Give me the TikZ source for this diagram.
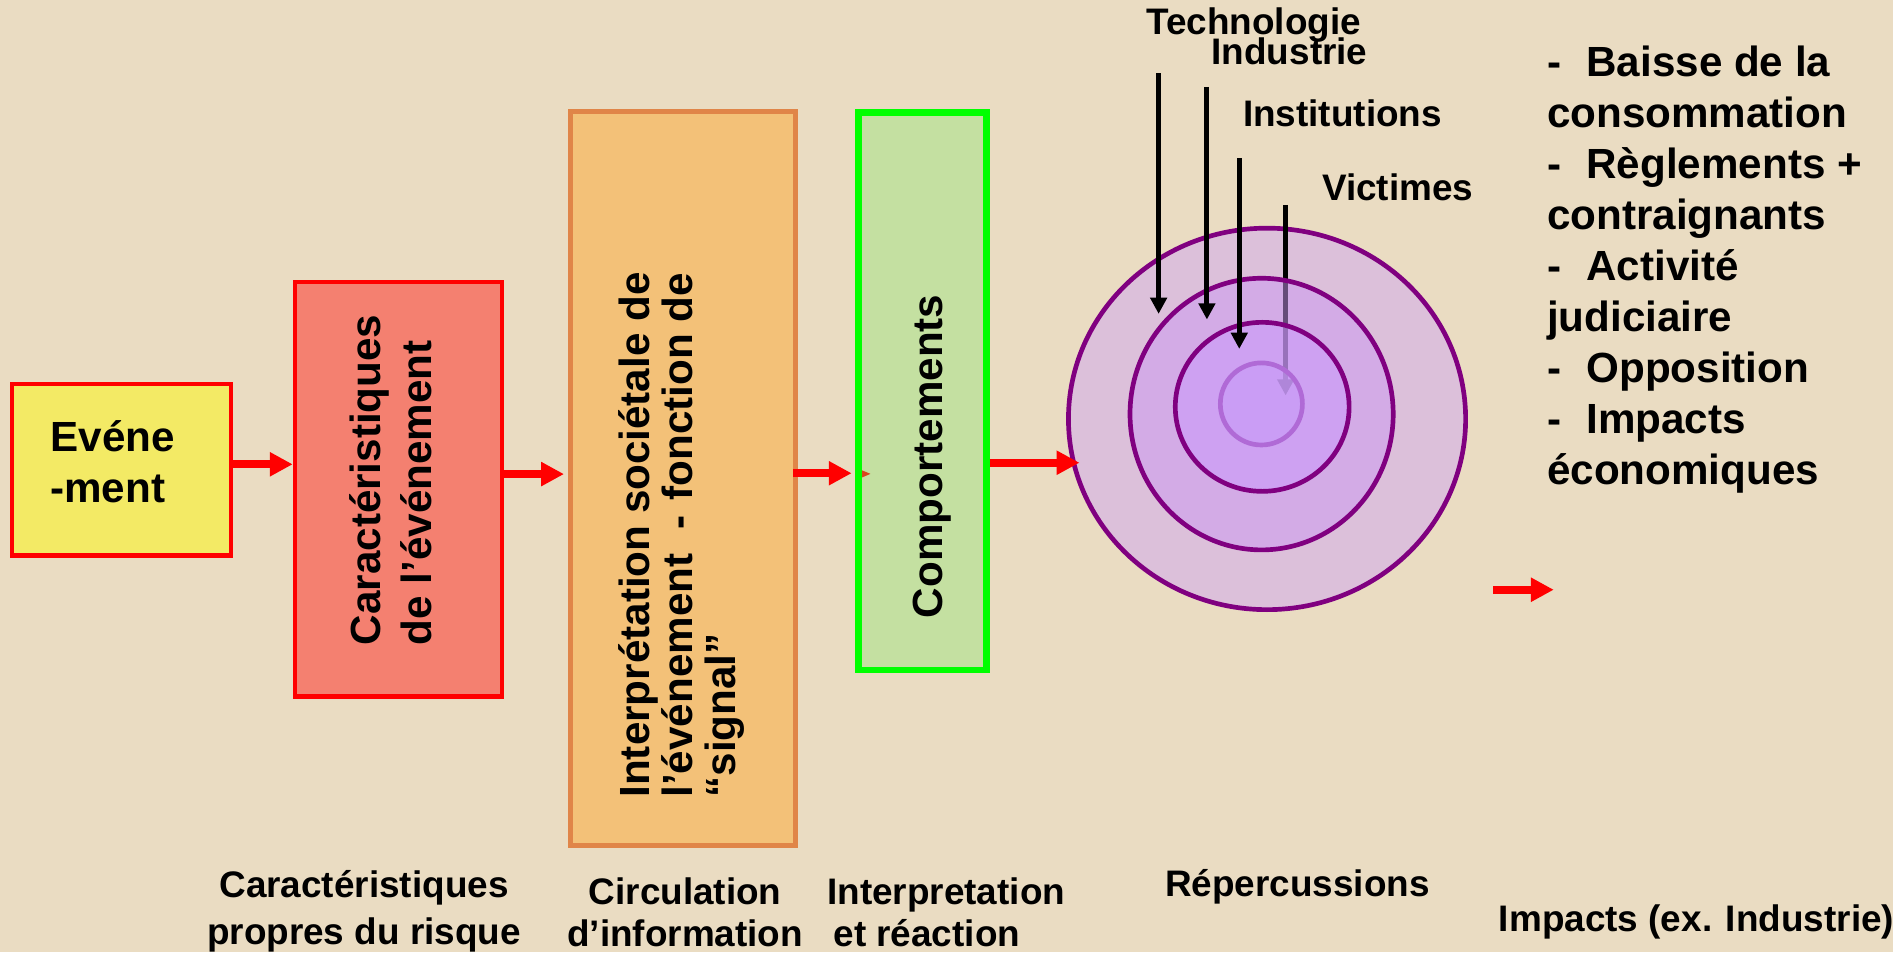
\documentclass[tikz,border=0pt]{standalone}
\usepackage{fontspec}
\setmainfont{Liberation Sans}
\usetikzlibrary{arrows.meta,fit,shapes.geometric}
\definecolor{bgc}{HTML}{EADCC2}
\definecolor{yellowbox}{HTML}{F3EA65}
\definecolor{salmonbox}{HTML}{F48070}
\definecolor{orangebox}{HTML}{F3C178}
\definecolor{orangeline}{HTML}{E08548}
\definecolor{greenbox}{HTML}{C4E0A1}
\definecolor{greenline}{HTML}{00FF00}
\definecolor{ringpurple}{HTML}{800080}
\definecolor{ringlight}{HTML}{B06AD6}
\definecolor{fillA}{HTML}{DCC0DA}
\definecolor{fillB}{HTML}{CC98F2}
\definecolor{fillC}{HTML}{CA98FE}
\definecolor{fillD}{HTML}{C79AF8}
\definecolor{tinytri}{HTML}{D9461E}
\newcommand\vu{0.012073cm}
\tikzset{
  redarrow/.style={draw=red, line width=2.2pt, -{Triangle[length=6.5pt,width=6.5pt]}},
  blackarrow/.style={draw=black, line width=1.4pt, -{Triangle[length=4.6pt,width=4.6pt]}},
  boxnode/.style={inner sep=0pt, line width=1.2pt},
  bigtext/.style={font=\fontsize{12}{14.4}\selectfont\bfseries, inner sep=0pt},
  smalltext/.style={font=\fontsize{10.5}{13}\selectfont\bfseries, inner sep=0pt},
  ring/.style={ellipse, draw=ringpurple, line width=1.33pt, inner sep=0pt},
}
\begin{document}
\begin{tikzpicture}[x=\vu, y=-\vu]
\fill[bgc] (0,0) rectangle (1568,788.6);
\useasboundingbox (0,0) rectangle (1568,788.6);

% boxes
\node[boxnode, draw=red, fill=yellowbox, fit={(10.1,317.9) (191.6,460.2)}] (b1) {};
\node[boxnode, draw=red, fill=salmonbox, fit={(244.2,233.9) (415.5,577)}] (b2) {};
\node[boxnode, draw=orangeline, fill=orangebox, line width=1.4pt, fit={(472.7,92.5) (658.7,700.3)}] (b3) {};
\node[boxnode, draw=greenline, fill=greenbox, line width=1.9pt, fit={(711.1,93.2) (816.9,555)}] (b4) {};

% box texts (base anchor = baseline of the last line)
\node[bigtext, anchor=base west, align=left] (t1) at (41.2,416.2) {Evéne\\-ment};
\node[bigtext, rotate=90, anchor=base west, align=left] (t2) at (357,535) {Caractéristiques\\de l’événement};
\node[bigtext, font=\fontsize{12}{12.3}\selectfont\bfseries, rotate=90, anchor=base west, align=left] (t3) at (609.6,661.2)
  {Interprétation sociétale de\\l’événement\hspace{7pt}-\hspace{4.2pt}fonction de\\“signal”};
\node[bigtext, rotate=90, anchor=base west] (t4) at (781,512.6) {Comportements};

% red connectors
\draw[redarrow] (b1.east |- 0,384.6) -- (b2.west |- 0,384.6);
\draw[redarrow] (b2.east |- 0,392.7) -- ([xshift=-1.2pt]b3.west |- 0,392.7);
\draw[redarrow] ([xshift=-1.3pt]b3.east |- 0,392) -- ([xshift=-1pt]b4.west |- 0,392);
\fill[tinytri] (714,389.6) -- (721,392.5) -- (714,395.5) -- cycle;

% concentric rings
\node[ring, fill=fillA, minimum width={329*\vu}, minimum height={316*\vu}] (e1) at (1049.5,347) {};
\coordinate (vtop) at (1064.9,169.7);
\coordinate (vtip) at (1064.9,327.6);
\draw[blackarrow] (vtop) -- (vtip);
\node[ring, fill=fillB, fill opacity=0.5, minimum width={218*\vu}, minimum height={225*\vu}] (e2) at (1045,343) {};
\node[ring, fill=fillC, fill opacity=0.5, minimum width={144*\vu}, minimum height={140*\vu}] (e3) at (1045.5,337) {};
\node[ring, draw=ringlight, fill=fillD, fill opacity=0.5, minimum width={68*\vu}, minimum height={68*\vu}] (e4) at (1044.8,334.6) {};

\draw[redarrow, shorten >=-3.8pt] (b4.east |- 0,383.3) -- (e1.west |- 0,383.3);

% black arrows
\coordinate (ttop) at (959.7,60.7);
\coordinate (ttip) at (959.7,260);
\coordinate (itop) at (999.7,72);
\coordinate (itip) at (999.7,264.7);
\coordinate (stop) at (1026.5,131);
\coordinate (stip) at (1026.5,289);
\draw[blackarrow] (ttop) -- (ttip);
\draw[blackarrow] (itop) -- (itip);
\draw[blackarrow] (stop) -- (stip);

% ring labels
\node[smalltext, anchor=base west] (lt) at (949,28.8) {Technologie};
\node[smalltext, anchor=base west] (li) at (1003,53.1) {Industrie};
\node[smalltext, anchor=base west] (ls) at (1029,104.8) {Institutions};
\node[smalltext, anchor=base west] (lv) at (1094.5,166.4) {Victimes};

% impacts list
\node[bigtext, font=\fontsize{12}{14.5}\selectfont\bfseries, anchor=base west, align=left] (list) at (1280.9,401.3)
  {-\hspace{7.2pt}Baisse de la\\consommation\\-\hspace{7.2pt}Règlements +\\contraignants\\-\hspace{7.2pt}Activité\\judiciaire\\-\hspace{7.2pt}Opposition\\-\hspace{7.2pt}Impacts\\économiques};

% isolated arrow
\coordinate (fa) at (1237,488.5);
\coordinate (fb) at (1287,488.5);
\draw[redarrow] (fa) -- (fb);

% bottom labels
\node[smalltext, font=\fontsize{10.5}{13.4}\selectfont\bfseries, anchor=base, align=center] (c1) at (301.5,782.1) {Caractéristiques\\propres du risque};
\node[smalltext, font=\fontsize{10.5}{12}\selectfont\bfseries, anchor=base, align=center] (c2) at (567.5,784.3) {Circulation\\d’information};
\node[smalltext, font=\fontsize{10.5}{12}\selectfont\bfseries, anchor=base west, align=left] (c3) at (684.6,784.3) {Interpretation\\\hspace*{1.8pt}et réaction};
\node[smalltext, anchor=base west] (c4) at (964.5,742.3) {Répercussions};
\node[smalltext, anchor=base west] (c5) at (1241,771.3) {Impacts (ex. Industrie)};
\end{tikzpicture}
\end{document}
